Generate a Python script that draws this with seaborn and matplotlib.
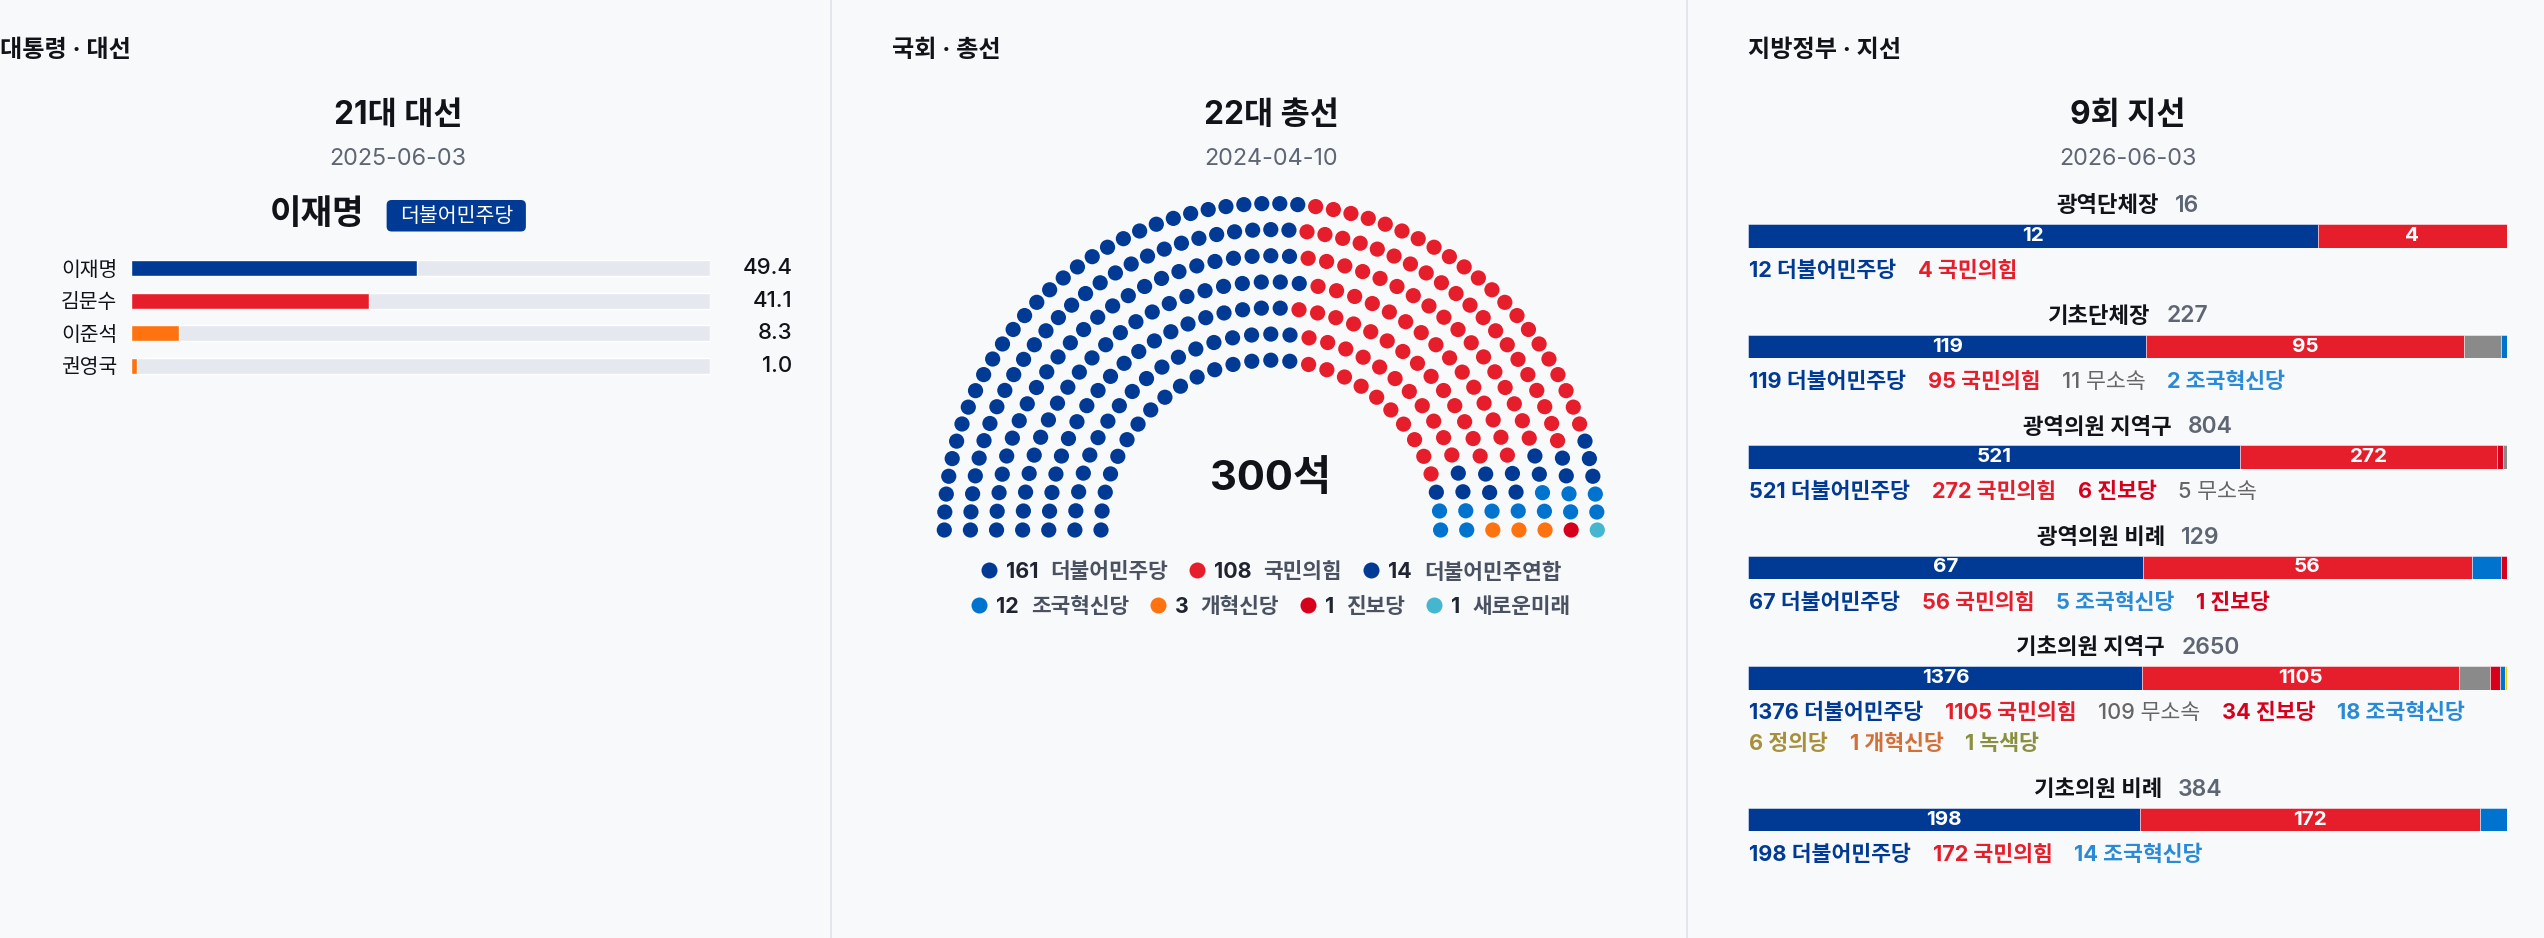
import numpy as np
import pandas as pd
import matplotlib
matplotlib.use('Agg')
import matplotlib.pyplot as plt
import seaborn as sns
from matplotlib.patches import FancyBboxPatch

W, H, DPI = 2544, 938, 100
PT = 72 / DPI          # one pixel in points

sns.set_theme(style='white')
plt.rcParams['font.family'] = ['Inter', 'Noto Sans CJK KR', 'DejaVu Sans']

BG = '#f8f9fb'
INK = '#111318'
GRAY = '#5f6673'
TRACK = '#e6e8ef'

# party colours (bars / dots) and legend text colours
BAR = {'더불어민주당': '#003a94', '국민의힘': '#e61e2b', '더불어민주연합': '#003a94',
       '조국혁신당': '#0073cf', '개혁신당': '#ff7210', '진보당': '#d6001c',
       '새로운미래': '#45b6cf', '무소속': '#8a8a8a', '정의당': '#ffcc00', '녹색당': '#f2c46d'}
TXT = {'더불어민주당': '#003a94', '국민의힘': '#e61e2b', '조국혁신당': '#2a8ad6',
       '개혁신당': '#d2703a', '진보당': '#d6001c', '무소속': '#666666',
       '정의당': '#a8903a', '녹색당': '#8a9040'}

# ---- data ----
pres_names = ['이재명', '김문수', '이준석', '권영국']
pres_share = [49.4, 41.1, 8.3, 1.0]
pres_colors = ['#003a94', '#e61e2b', '#ff7210', '#ff7210']
pres_winner = '이재명'
pres_winner_party = '더불어민주당'

assembly_parties = ['더불어민주당', '국민의힘', '더불어민주연합', '조국혁신당', '개혁신당', '진보당', '새로운미래']
assembly_seats = [161, 108, 14, 12, 3, 1, 1]
ring_sizes = [29, 33, 38, 42, 47, 53, 58]

local_titles = ['광역단체장', '기초단체장', '광역의원 지역구', '광역의원 비례', '기초의원 지역구', '기초의원 비례']
local_parties = [
    ['더불어민주당', '국민의힘'],
    ['더불어민주당', '국민의힘', '무소속', '조국혁신당'],
    ['더불어민주당', '국민의힘', '진보당', '무소속'],
    ['더불어민주당', '국민의힘', '조국혁신당', '진보당'],
    ['더불어민주당', '국민의힘', '무소속', '진보당', '조국혁신당', '정의당', '개혁신당', '녹색당'],
    ['더불어민주당', '국민의힘', '조국혁신당'],
]
local_seats = [[12, 4], [119, 95, 11, 2], [521, 272, 6, 5], [67, 56, 5, 1],
               [1376, 1105, 109, 34, 18, 6, 1, 1], [198, 172, 14]]

# ---- canvas ----
fig = plt.figure(figsize=(W / DPI, H / DPI), dpi=DPI, facecolor=BG)
over = fig.add_axes([0, 0, 1, 1])
over.set_xlim(0, W)
over.set_ylim(H, 0)
over.axis('off')
renderer = fig.canvas.get_renderer()


def put(x, y, s, **kw):
    kw.setdefault('va', 'center')
    kw.setdefault('ha', 'left')
    return over.text(x, y + 2, s, **kw)


def wid(t):
    return t.get_window_extent(renderer).width


def px_axes(x0, y0, x1, y1):
    ax = fig.add_axes([x0 / W, 1 - y1 / H, (x1 - x0) / W, (y1 - y0) / H])
    ax.patch.set_visible(False)
    return ax


for xd in (831, 1687):
    over.axvline(xd, color='#e2e4e9', lw=2 * PT)

# panel headers, titles, dates
for x, s in [(0, '대통령 · 대선'), (892, '국회 · 총선'), (1748, '지방정부 · 지선')]:
    put(x, 49, s, fontsize=17.4, fontweight='bold', color=INK)
for cx, title, date in [(398, '21대 대선', '2025-06-03'), (1271, '22대 총선', '2024-04-10'),
                        (2128, '9회 지선', '2026-06-03')]:
    put(cx, 113.5, title, fontsize=22.8, fontweight='bold', color=INK, ha='center')
    put(cx, 157, date, fontsize=16.8, color=GRAY, ha='center')

# ---- presidential ----
tw = put(0, 213, pres_winner, fontsize=24.7, fontweight='bold', color=INK)
tb = put(0, 214, pres_winner_party, fontsize=14.8, color='white', fontweight='medium', zorder=3)
w_name, w_badge = wid(tw), wid(tb)
pad, gap = 13, 22
x0 = 398 - (w_name + gap + w_badge + 2 * pad) / 2
tw.set_x(x0)
bx = x0 + w_name + gap
tb.set_x(bx + pad)
over.add_patch(FancyBboxPatch((bx, 200), w_badge + 2 * pad, 31.5,
                              boxstyle='round,pad=0,rounding_size=5',
                              fc=BAR[pres_winner_party], ec='none', zorder=2))

ax = px_axes(131.3, 251.7, 710, 382.3)
sns.barplot(x=[100] * len(pres_names), y=pres_names, color=TRACK, width=0.49,
            orient='h', ax=ax, saturation=1)
sns.barplot(x=pres_share, y=pres_names, hue=pres_names,
            palette=dict(zip(pres_names, pres_colors)), width=0.49,
            orient='h', ax=ax, legend=False, saturation=1)
ax.set_xlim(0, 100)
ax.set_ylim(3.5, -0.5)
ax.set_xlabel('')
ax.set_ylabel('')
ax.set_xticks([])
ax.tick_params(axis='y', length=0, pad=13.8 * PT, labelsize=14.7, labelcolor=INK)
for lab in ax.get_yticklabels():
    lab.set_fontweight('medium')
sns.despine(ax=ax, left=True, bottom=True)
for i, v in enumerate(pres_share):
    ax.annotate(f'{v:.1f}', xy=(1, i), xycoords=ax.get_yaxis_transform(),
                xytext=((792.5 - 710) * PT, 0), textcoords='offset points',
                ha='right', va='center', fontsize=16, color=INK, fontweight='medium')

# ---- assembly hemicycle ----
cx, base = 1270.8, 530.0
r_in, r_out = 169.8, 326.5
radii = np.linspace(r_in, r_out, len(ring_sizes))
seats = []
for r, n in zip(radii, ring_sizes):
    for j in range(n):
        frac = j / (n - 1)
        seats.append((round(frac, 9), r))
seats.sort()
owner = np.repeat(assembly_parties, assembly_seats)
df = pd.DataFrame(seats, columns=['frac', 'r'])
df['party'] = owner
phi = np.pi * df['frac']
df['x'] = cx - df['r'] * np.cos(phi)
df['y'] = base - df['r'] * np.sin(phi)

hax = px_axes(900, 180, 1640, 560)
sns.scatterplot(data=df, x='x', y='y', hue='party', palette=BAR, s=(15.2 * PT) ** 2,
                edgecolor='none', legend=False, ax=hax)
hax.set_xlim(900, 1640)
hax.set_ylim(560, 180)
hax.axis('off')
put(1271, 477, f'{sum(assembly_seats)}석', fontsize=30, fontweight='bold', color=INK, ha='center')

# legend rows
rows = [list(range(0, 3)), list(range(3, len(assembly_parties)))]
for ry, idx in zip([570.5, 604.6], rows):
    items = []
    x = 0
    for k in idx:
        p = assembly_parties[k]
        dot = x
        tn = put(0, ry, str(assembly_seats[k]), fontsize=15.4, fontweight='bold', color='#1f2430')
        tp = put(0, ry, p, fontsize=15.4, fontweight='bold', color='#4a5261')
        xn = x + 16 + 9
        xp = xn + wid(tn) + 12
        items.append((k, dot, tn, xn, tp, xp))
        x = xp + wid(tp) + 21
    total_w = x - 21
    shift = 1271 - total_w / 2
    for k, dot, tn, xn, tp, xp in items:
        tn.set_x(xn + shift)
        tp.set_x(xp + shift)
        over.plot(dot + shift + 8, ry, 'o', ms=16 * PT, color=BAR[assembly_parties[k]], mec='none')

# ---- local elections ----
bx0, bx1 = 1748.4, 2507.3
y = 204.0
for title, parties, counts in zip(local_titles, local_parties, local_seats):
    total = sum(counts)
    t1 = put(0, y, title, fontsize=16, fontweight='bold', color=INK)
    t2 = put(0, y, str(total), fontsize=16.5, fontweight='semibold', color=GRAY)
    w1, w2 = wid(t1), wid(t2)
    start = 2128 - (w1 + 16 + w2) / 2
    t1.set_x(start)
    t2.set_x(start + w1 + 16)

    by = y + 32
    bar = px_axes(bx0, by - 11.85, bx1, by + 11.85)
    left = np.concatenate([[0], np.cumsum(counts)[:-1]])
    bar.barh([0] * len(counts), counts, left=left, height=1.0,
             color=[BAR[p] for p in parties], edgecolor=(1, 1, 1, 0.45), linewidth=1 * PT)
    bar.set_xlim(0, total)
    bar.set_ylim(-0.5, 0.5)
    bar.axis('off')
    for c, l in zip(counts, left):
        if c / total > 0.1:
            bar.text(l + c / 2, 0, str(c), color='white', fontsize=14.8,
                     fontweight='bold', ha='center', va='center')

    ly = y + 65
    x = bx0 + 1
    lines = 1
    for p, c in zip(parties, counts):
        t = put(x, ly, f'{c} {p}', fontsize=15.6,
                fontweight='medium' if p == '무소속' else 'bold', color=TXT[p])
        w = wid(t)
        if x + w > bx1 and x > bx0 + 1:
            ly += 31
            lines += 1
            x = bx0 + 1
            t.set_position((x, ly + 2))
        x += w + 21.5
    y += 110.5 + 31 * (lines - 1)

fig.savefig('out.png', dpi=DPI, facecolor=BG)
